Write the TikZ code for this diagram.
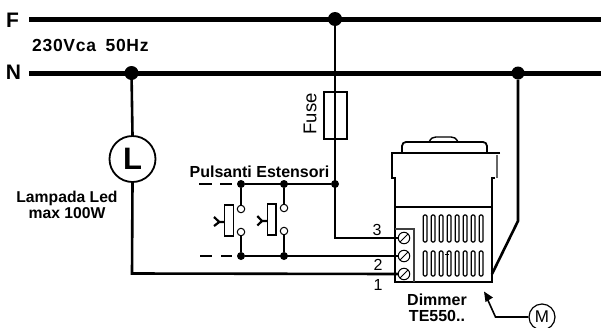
\documentclass[tikz,border=0pt]{standalone}
\usepackage{fontspec}
\usetikzlibrary{calc}
\setmainfont{Liberation Sans}
\tikzset{
  bus/.style={line width=5pt},
  wire/.style={line width=2.6pt},
  thinwire/.style={line width=2.2pt},
  junction/.style={circle,fill=black,inner sep=0pt,minimum size=#1},
  term/.style={circle,draw=black,fill=white,line width=1pt,inner sep=0pt,minimum size=7.5pt},
  screw/.style={circle,draw=black,line width=1pt,inner sep=0pt,minimum size=11.5pt},
  outline/.style={line width=1.8pt,line join=miter},
  lbl/.style={font=\bfseries,inner sep=0pt,text=black},
  plain/.style={inner sep=0pt,text=black},
  slot/.style={draw=black,line width=1.3pt,rounded corners=1.3pt,fill=white},
  push/.style={draw=black,line width=1.1pt,fill=white}
}
\begin{document}
\begin{tikzpicture}[x=1pt,y=-1pt]
\useasboundingbox[fill=white] (0,0) rectangle (601,327);
% texts
\node[lbl,font=\bfseries\fontsize{21}{21}\selectfont] (tF) at (12.5,20) {F};
\node[lbl,font=\bfseries\fontsize{21}{21}\selectfont] (tN) at (13.5,72) {N};
\node[lbl,font=\bfseries\fontsize{17.5}{17.5}\selectfont\addfontfeature{LetterSpace=4},anchor=west] (tV) at (32,45) {230Vca\hspace{4pt} 50Hz};
\node[lbl,font=\bfseries\fontsize{15.7}{16}\selectfont,align=center] (tL) at (67,205) {Lampada Led\\max 100W};
\node[lbl,font=\bfseries\fontsize{16}{16}\selectfont] (tP) at (259.5,172) {Pulsanti Estensori};
\node[lbl,font=\bfseries\fontsize{16}{16}\selectfont,align=center] (tD) at (437,308) {Dimmer\\TE550..};
\node[plain,font=\fontsize{18.5}{18.5}\selectfont,rotate=90] (tFu) at (310,114) {Fuse};
\node[plain,font=\fontsize{16}{16}\selectfont] (n3) at (377,230) {3};
\node[plain,font=\fontsize{16}{16}\selectfont] (n2) at (378,265) {2};
\node[plain,font=\fontsize{16}{16}\selectfont] (n1) at (378,285) {1};
% buses
\coordinate (Fa) at (29,19); \coordinate (Fb) at (601,19);
\coordinate (Na) at (29,73); \coordinate (Nb) at (601,73);
\draw[bus] (Fa) -- (Fb);
\draw[bus] (Na) -- (Nb);
\node[junction=14pt] (jF) at (335,19) {};
\node[junction=14pt] (jN) at (131.5,73) {};
\node[junction=13pt] (jR) at (518,73) {};
% device
\draw[line width=1.4pt,fill=white] (429,142) .. controls (431,138) and (433,137) .. (436,137) -- (451,137) .. controls (454,137) and (456,138) .. (458,142);
\draw[outline] (402,153) -- (402,146) .. controls (402,143.5) and (404,142) .. (406,142) -- (483,142) .. controls (485,142) and (487,143.5) .. (487,146) -- (487,153);
\draw[outline] (500,153) -- (392,153) -- (392,178) -- (395,178) -- (395,282) -- (492,282) -- (492,178) -- (495,178);
\draw[line width=1.6pt,black!60] (497,155) -- (497,178);
\draw[outline] (395,207) -- (492,207);
\draw[line width=1.5pt,black!75] (395,229) -- (414,229) -- (414,282);
\foreach \i in {0,...,7}{
  \draw[slot] ({423.2+8*\i},215) rectangle ++(3.8,27);
  \draw[slot] ({423.2+8*\i},251) rectangle ++(3.8,25);
}
\draw[line width=1pt] (445,254) -- (449,254);
% wires
\node[screw] (s3) at (404,238) {};
\node[screw] (s2) at (404,256) {};
\node[screw] (s1) at (404,274) {};
\foreach \s in {s1,s2,s3}{
  \draw[line width=1pt] ($(\s)+(-3.8,3.8)$) -- ($(\s)+(3.8,-3.8)$);
}
\draw[wire] (jF) -- (335,238) -- (s3.west);
\node[draw=black,line width=2pt,minimum width=23pt,minimum height=47pt,inner sep=0pt] (fuse) at (335.5,115.5) {};
\node[junction=8pt] (jA) at (335,184) {};
\node[junction=8pt] (jP1) at (241,184) {};
\node[junction=8pt] (jP2) at (284,184) {};
\node[junction=8pt] (jQ1) at (241,256) {};
\node[junction=8pt] (jQ2) at (284,256) {};
\draw[wire] (jP1) -- (jA);
\draw[wire] (jQ1) -- (s2.west);
\draw[wire] (199,184) -- (212,184) (220,184) -- (232,184);
\draw[wire] (200,256) -- (212,256) (221,256) -- (232,256);
\node[term] (a1) at (241,209) {};
\node[term] (a2) at (241,232) {};
\node[term] (b1) at (284,208) {};
\node[term] (b2) at (284,231) {};
\draw[thinwire] (jP1) -- (a1);
\draw[line width=1.2pt] (a2) -- (jQ1);
\draw[thinwire] (jP2) -- (b1);
\draw[line width=1.2pt] (b2) -- (jQ2);
\draw[push] (224.7,205) rectangle (233.3,236);
\draw[push] (267.3,204) rectangle (276,235);
\draw[line width=2.2pt] (224.7,222) -- (219.3,222) (214,217) -- (219.3,222) -- (214,226);
\draw[line width=2.2pt] (267.3,221) -- (262,221) (257.3,216) -- (262,221) -- (257.3,225.5);
% lamp
\node[circle,draw=black,line width=1.8pt,minimum size=46pt,inner sep=0pt,font=\bfseries\fontsize{31}{31}\selectfont] (lamp) at (132.5,159) {L};
\draw[wire] (jN) -- (lamp.north);
\draw[wire] (lamp.south) -- (132,273.5) -- (s1.west);
% right wire
\coordinate (rk) at (518,221);
\coordinate (rk2) at (492,274);
\draw[wire] (jR) -- (rk) -- (rk2);
% M
\node[circle,draw=black,line width=1.2pt,minimum size=26pt,inner sep=0pt,font=\fontsize{17}{17}\selectfont] (M) at (542,317) {M};
\coordinate (arrk) at (495.5,317);
\coordinate (arrt) at (486,296);
\draw[line width=1.6pt] (M.west) -- (arrk) -- (arrt);
\fill (484,291.5) -- (493,297.5) -- (485.5,302) -- cycle;
\end{tikzpicture}
\end{document}
